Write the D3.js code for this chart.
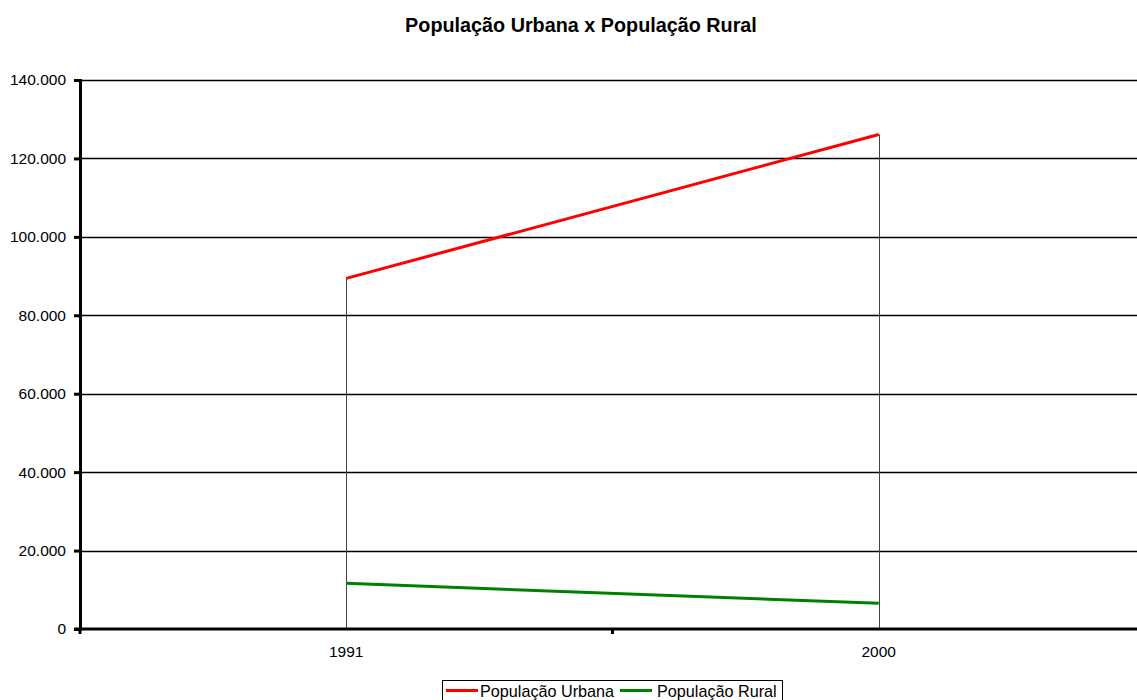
<!DOCTYPE html>
<html>
<head>
<meta charset="utf-8">
<script src="https://cdn.jsdelivr.net/npm/d3@7"></script>
<style>
  html, body { margin: 0; padding: 0; background: #fff; overflow: hidden; }
  svg { display: block; font-family: "Liberation Sans", Arial, sans-serif; }
</style>
</head>
<body>
<svg id="chart" width="1137" height="700"></svg>
<script>
// Population by census year
const years = ["1991", "2000"];
const urbana = [89400, 126100];
const rural = [11650, 6550];
const yTicks = [0, 20000, 40000, 60000, 80000, 100000, 120000, 140000];
const seriesNames = ["População Urbana", "População Rural"];
const seriesColors = ["#ff0000", "#008000"];

const svg = d3.select("#chart");
const margin = { left: 80, right: -8, top: 80, bottom: 71 };
const W = 1137, H = 700;

const x = d3.scaleBand().domain(years).range([margin.left, W - margin.right]);
const y = d3.scaleLinear().domain([0, 140000]).range([H - margin.bottom, margin.top]);
const fmt = v => d3.format(",")(v).replace(/,/g, ".");

// Title
svg.append("text")
  .attr("x", 581).attr("y", 31.5)
  .attr("text-anchor", "middle")
  .style("font-size", "19.8px").style("font-weight", "bold")
  .text("População Urbana x População Rural");

// Horizontal gridlines
svg.append("g").selectAll("line")
  .data(yTicks.filter(d => d > 0))
  .join("line")
  .attr("x1", margin.left).attr("x2", W - margin.right)
  .attr("y1", d => Math.round(y(d)) + 0.5).attr("y2", d => Math.round(y(d)) + 0.5)
  .attr("stroke", "#000").attr("stroke-width", 1.3);

// Drop lines from the highest point of each year down to the axis
svg.append("g").selectAll("line")
  .data(years)
  .join("line")
  .attr("x1", d => Math.round(x(d) + x.bandwidth() / 2) + 0.5)
  .attr("x2", d => Math.round(x(d) + x.bandwidth() / 2) + 0.5)
  .attr("y1", (d, i) => y(Math.max(urbana[i], rural[i])))
  .attr("y2", y(0))
  .attr("stroke", "#444").attr("stroke-width", 1);

// Series lines
const line = d3.line()
  .x((d, i) => x(years[i]) + x.bandwidth() / 2)
  .y(d => y(d));
[urbana, rural].forEach((vals, k) => {
  svg.append("path")
    .datum(vals)
    .attr("d", line)
    .attr("fill", "none")
    .attr("stroke", seriesColors[k])
    .attr("stroke-width", 3);
});

// Y axis
const yAxis = d3.axisLeft(y).tickValues(yTicks).tickFormat(fmt).tickSize(6).tickPadding(8);
const gy = svg.append("g").attr("transform", `translate(${margin.left},0)`).call(yAxis);
gy.select(".domain").attr("stroke", "#000").attr("stroke-width", 3);
gy.selectAll(".tick line").attr("stroke", "#000").attr("stroke-width", 3);
gy.selectAll("text").style("font-size", "15.5px").attr("fill", "#000");

// X axis: ticks at the category boundaries, labels centred
const gx = svg.append("g").attr("transform", `translate(0,${y(0)})`);
gx.append("line")
  .attr("x1", margin.left - 6).attr("x2", W)
  .attr("stroke", "#000").attr("stroke-width", 3);
const bounds = years.map(d => x(d)).concat([x(years[years.length - 1]) + x.bandwidth()]);
gx.selectAll(".bt").data(bounds).join("line")
  .attr("class", "bt")
  .attr("x1", d => d).attr("x2", d => d)
  .attr("y1", 0).attr("y2", 5)
  .attr("stroke", "#000").attr("stroke-width", 3);
gx.selectAll(".lbl").data(years).join("text")
  .attr("class", "lbl")
  .attr("x", d => x(d) + x.bandwidth() / 2)
  .attr("y", 28)
  .attr("text-anchor", "middle")
  .style("font-size", "15.5px")
  .text(d => d);

// Legend
const lg = svg.append("g");
lg.append("rect")
  .attr("x", 442.5).attr("y", 680.5).attr("width", 340).attr("height", 24)
  .attr("fill", "#fff").attr("stroke", "#000").attr("stroke-width", 1);
const items = [{ x0: 446, tx: 480 }, { x0: 620, tx: 657 }];
items.forEach((it, k) => {
  lg.append("line")
    .attr("x1", it.x0).attr("x2", it.x0 + 32)
    .attr("y1", 690.5).attr("y2", 690.5)
    .attr("stroke", seriesColors[k]).attr("stroke-width", 3);
  lg.append("text")
    .attr("x", it.tx).attr("y", 696.5)
    .style("font-size", "16.2px")
    .text(seriesNames[k]);
});
</script>
</body>
</html>
